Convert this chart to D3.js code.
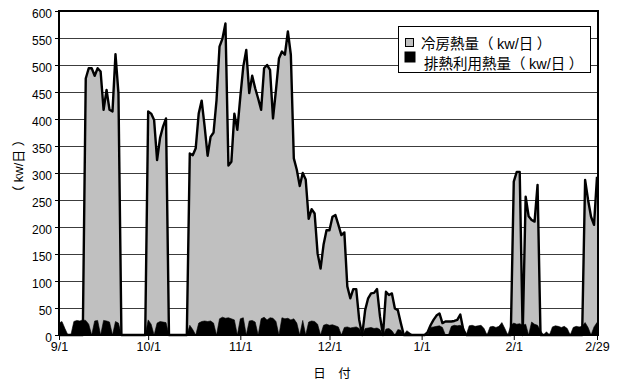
<!DOCTYPE html>
<html><head><meta charset="utf-8">
<script src="https://cdn.jsdelivr.net/npm/d3@7"></script>
<style>html,body{margin:0;padding:0;background:#fff;} svg{display:block;}</style>
</head><body>
<script>
// Daily data, 1999-09-01 .. 2000-02-29 (182 days)
const startDate = "1999-09-01";
const cooling = [
  0,0,0,0,0,0,0,0,0,475,
  494,494,480,494,488,417,454,417,414,520,
  448,0,0,0,0,0,0,0,0,0,
  414,410,398,324,365,386,401,0,0,0,
  0,0,0,0,336,333,346,410,434,386,
  332,367,375,435,534,549,577,314,321,410,
  380,441,497,528,448,480,457,438,417,494,
  500,491,401,454,512,525,519,562,519,327,
  306,276,300,288,215,233,225,151,123,167,
  194,194,219,222,204,185,190,90,68,85,
  85,28,0,46,68,77,78,85,34,0,
  80,74,77,49,46,22,0,0,0,0,
  0,0,0,0,5,18,28,36,40,22,
  25,25,25,26,28,38,10,0,0,0,
  0,0,0,0,0,0,0,0,0,0,
  0,0,0,284,302,302,0,256,220,213,
  210,278,0,0,0,0,0,0,0,0,
  0,0,0,0,0,0,0,287,250,219,
  204,293
];
const exhaust = [
  22,25,12,0,0,25,27,26,28,27,
  20,0,26,27,0,27,26,24,0,25,
  22,0,0,0,0,0,0,0,0,0,
  28,20,0,22,25,24,23,0,0,0,
  0,0,0,0,18,10,0,22,25,26,
  25,26,22,0,30,33,31,32,30,28,
  0,30,32,0,26,27,24,0,30,33,
  28,32,31,25,0,32,30,31,28,30,
  22,0,27,0,24,26,25,20,0,18,
  20,18,19,17,15,0,14,15,13,14,
  15,12,0,12,13,14,12,13,10,0,
  11,12,8,0,10,9,0,8,4,0,
  0,0,0,0,0,14,15,16,17,14,
  0,0,16,18,17,18,15,0,17,18,
  16,17,18,12,0,15,16,14,16,23,
  12,0,18,22,20,21,18,20,0,24,
  20,18,8,0,6,0,15,17,16,14,
  16,12,0,14,16,15,16,23,14,0,
  15,23
];
const xTickDays = [0, 30, 61, 91, 122, 153, 181];
const xTickLabels = ["9/1", "10/1", "11/1", "12/1", "1/1", "2/1", "2/29"];
const yTicks = [0,50,100,150,200,250,300,350,400,450,500,550,600];
const seriesNames = ["冷房熱量（kw/日）", "排熱利用熱量（kw/日）"];
const seriesColors = ["#c0c0c0", "#000000"];
const yTitle = "（kw/日）";
const xTitle = "日　付";

const W = 618, H = 385;
const L = 59, R = 597, T = 11, B = 335;
const LATIN = "'Liberation Sans', Arial, sans-serif";
const CJK = "'Noto Sans CJK JP', sans-serif";

// mixed text: CJK / full-width characters in the CJK font, the rest in the Latin font;
// full-width brackets get a little space inside, as in the original rendering
function mixedText(sel, str, pad) {
  const runs = [];
  for (const ch of str) {
    const paren = ch === "（" || ch === "）";
    const isCJK = /[\u3000-\u9fff\uff00-\uffef]/.test(ch);
    const last = runs[runs.length - 1];
    if (!paren && last && !last.paren && last.cjk === isCJK) last.t += ch;
    else runs.push({cjk: isCJK, paren, t: ch});
  }
  runs.forEach((r, i) => {
    r.dx = 0;
    if (r.t === "）") r.dx = pad;
    if (i > 0 && runs[i - 1].t === "（") r.dx = pad;
  });
  sel.selectAll("tspan").data(runs).join("tspan")
    .attr("font-family", d => d.cjk ? CJK : LATIN)
    .attr("dx", d => d.dx)
    .text(d => d.t);
  return sel;
}

const svg = d3.select("body").append("svg")
  .attr("width", W).attr("height", H)
  .style("background", "#fff");

const x = d3.scaleLinear().domain([0, cooling.length - 1]).range([L, R]);
const y = d3.scaleLinear().domain([0, 600]).range([B, T]);

// gridlines
svg.append("g").selectAll("line")
  .data(yTicks.filter(v => v > 0 && v < 600))
  .join("line")
  .attr("x1", L).attr("x2", R + 1)
  .attr("y1", d => Math.round(y(d)) + 0.5).attr("y2", d => Math.round(y(d)) + 0.5)
  .attr("stroke", "#3c3c3c").attr("stroke-width", 1);

// areas
const area = d3.area().x((d, i) => x(i)).y0(y(0)).y1(d => y(d));
const line = d3.line().x((d, i) => x(i)).y(d => y(d));

svg.append("path").datum(cooling)
  .attr("d", area).attr("fill", seriesColors[0]);
svg.append("path").datum(cooling)
  .attr("d", line).attr("fill", "none")
  .attr("stroke", "#000").attr("stroke-width", 2.4).attr("stroke-linejoin", "round");
svg.append("path").datum(exhaust)
  .attr("d", area).attr("fill", seriesColors[1])
  .attr("stroke", "#000").attr("stroke-width", 0.6);

// frame
svg.append("rect")
  .attr("x", L).attr("y", T).attr("width", R + 1 - L).attr("height", B - T)
  .attr("fill", "none").attr("stroke", "#000").attr("stroke-width", 2);

// y axis
const yAxis = svg.append("g").attr("transform", `translate(${L},0)`)
  .call(d3.axisLeft(y).tickValues(yTicks).tickSize(4).tickPadding(3).tickFormat(d3.format("d")));
yAxis.select(".domain").remove();
yAxis.selectAll("line").attr("stroke", "#000");
yAxis.selectAll("text").attr("y", 3)
  .attr("font-family", LATIN).attr("font-size", 12).attr("fill", "#000");

// x axis
const xAxis = svg.append("g").attr("transform", `translate(0,${B})`)
  .call(d3.axisBottom(x).tickValues(xTickDays).tickSize(5).tickPadding(2)
    .tickFormat((d, i) => xTickLabels[i]));
xAxis.select(".domain").remove();
xAxis.selectAll("line").attr("stroke", "#000");
xAxis.selectAll("text")
  .attr("font-family", LATIN).attr("font-size", 12.5).attr("fill", "#000");

// axis titles
mixedText(svg.append("text")
  .attr("transform", "translate(23,166) rotate(-90)")
  .attr("text-anchor", "middle")
  .attr("font-size", 13), yTitle, 3.5);
mixedText(svg.append("text")
  .attr("x", 332).attr("y", 377.5).attr("text-anchor", "middle")
  .attr("font-size", 12.5), xTitle, 0);

// legend
const lg = svg.append("g");
lg.append("rect").attr("x", 398.5).attr("y", 26.5).attr("width", 192).attr("height", 46)
  .attr("fill", "#fff").attr("stroke", "#000").attr("stroke-width", 1);
const items = [
  {sx: 405.5, sy: 38.5, s: 8, tx: 421, ty: 48.5},
  {sx: 405, sy: 52, s: 10, tx: 424, ty: 69}
];
items.forEach((it, i) => {
  lg.append("rect").attr("x", it.sx).attr("y", it.sy).attr("width", it.s).attr("height", it.s)
    .attr("fill", seriesColors[i]).attr("stroke", "#000").attr("stroke-width", 1);
  mixedText(lg.append("text").attr("x", it.tx).attr("y", it.ty)
    .attr("font-size", 14.5), seriesNames[i], 3.5);
});
</script>
</body></html>
